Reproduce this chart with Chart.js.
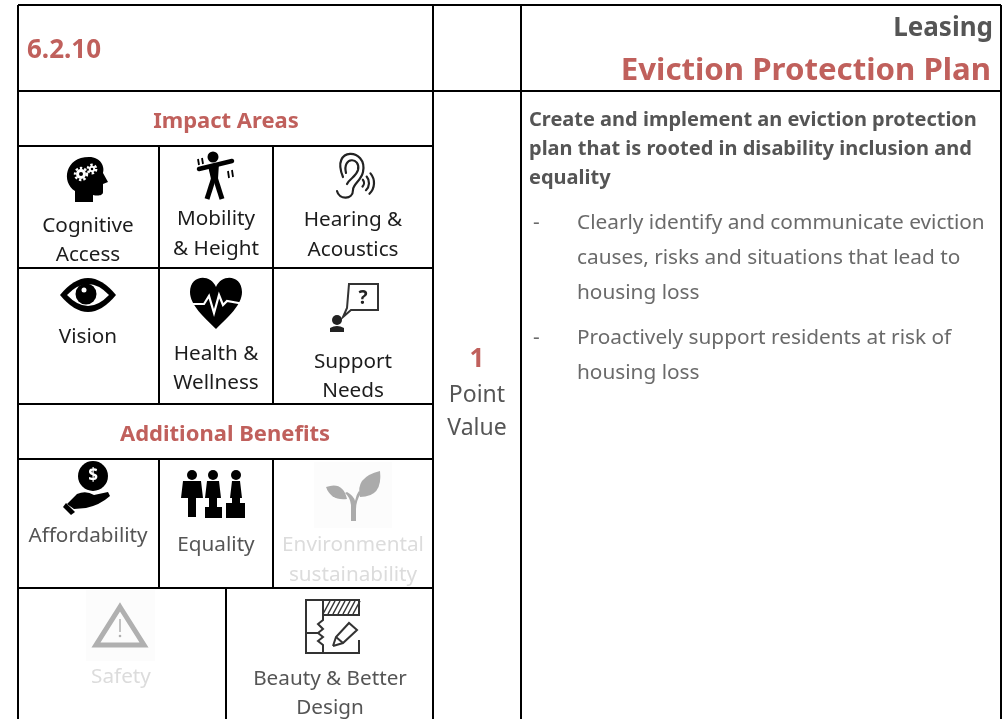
<!DOCTYPE html>
<html>
<head>
<meta charset="utf-8">
<title>Eviction Protection Plan</title>
<script src="https://cdn.jsdelivr.net/npm/chart.js@4/dist/chart.umd.min.js"></script>
<style>
  html, body { margin: 0; padding: 0; background: #fff; }
  canvas { display: block; }
</style>
</head>
<body>
<canvas id="sheet" width="1006" height="719"></canvas>
<script>
// table content
const sectionId = ['6.2.10'];
const category = ['Leasing'];
const title = ['Eviction Protection Plan'];
const sectionHeads = ['Impact Areas', 'Additional Benefits'];
const impactLabels = ['Cognitive', 'Access', 'Mobility', '& Height', 'Hearing &', 'Acoustics', 'Vision', 'Health &', 'Wellness', 'Support', 'Needs'];
const benefitLabels = ['Affordability', 'Equality', 'Beauty & Better', 'Design'];
const inactiveLabels = ['Environmental', 'sustainability', 'Safety'];
const pointValue = ['1'];
const pointLabels = ['Point', 'Value'];
const introLines = ['Create and implement an eviction protection', 'plan that is rooted in disability inclusion and', 'equality'];
const bulletLines = ['Clearly identify and communicate eviction', 'causes, risks and situations that lead to', 'housing loss', 'Proactively support residents at risk of', 'housing loss'];
const bulletDashes = ['-', '-'];

// table rules, in axis units
const hRules = [[5, 18, 1001], [91, 18, 1001], [146, 18, 433], [268, 18, 433], [404, 18, 433], [459, 18, 433], [588, 18, 433]];
const vRules = [[18, 5, 719], [433, 5, 719], [521, 5, 719], [1001, 5, 719], [159, 146, 404], [273, 146, 404], [159, 459, 588], [273, 459, 588], [226, 588, 719]];

const ruleSets = [
  ...hRules.map(r => [{ x: r[1], y: r[0] }, { x: r[2], y: r[0] }]),
  ...vRules.map(r => [{ x: r[0], y: r[1] }, { x: r[0], y: r[2] }]),
];

const RED = '#c0605c';
const DARK = '#1c1c1c';
const GREY = '#555555';
const BODY = '#6a6a6a';
const FAINT = '#dcdcdc';
const FONT = '"Noto Sans", sans-serif';

// [texts, x list, y list, align, font, colour]
const textBlocks = [
  [sectionId, [27], [58], 'left', 'bold 26px', RED],
  [category, [993], [36], 'right', 'bold 26px', GREY],
  [title, [991], [80], 'right', 'bold 31.2px', RED],
  [sectionHeads, [226, 225], [128, 441], 'center', 'bold 22px', RED],
  [impactLabels, [88, 88, 216, 216, 353, 353, 88, 216, 216, 353, 353], [232, 261, 225, 255, 226, 256, 343, 360, 389, 368, 397], 'center', '20.7px', DARK],
  [benefitLabels, [88, 216, 330, 330], [542, 551, 685, 714], 'center', '20.7px', GREY],
  [inactiveLabels, [353, 353, 121], [551, 581, 683], 'center', '20.7px', FAINT],
  [pointValue, [477], [367], 'center', 'bold 26px', RED],
  [pointLabels, [477, 477], [402, 435], 'center', '23px', GREY],
  [introLines, [529, 529, 529], [126, 155, 184], 'left', 'bold 20px', GREY],
  [bulletLines, [577, 577, 577, 577, 577], [229, 264, 299, 344, 379], 'left', '20.8px', BODY],
  [bulletDashes, [533, 533], [229, 344], 'left', '20.8px', BODY],
];

function circle(c, x, y, r) { c.beginPath(); c.arc(x, y, r, 0, Math.PI * 2); c.fill(); }
function line(c, pts) { c.beginPath(); pts.forEach((p, i) => i ? c.lineTo(p[0], p[1]) : c.moveTo(p[0], p[1])); c.stroke(); }

const icons = {
  head(c) {
    c.fillStyle = '#000';
    c.beginPath();
    c.moveTo(-12, 23); c.lineTo(-12, 12);
    c.bezierCurveTo(-26, 3, -22, -22, 2, -22);
    c.bezierCurveTo(14, -22, 18, -12, 16, -6);
    c.lineTo(21, 3); c.lineTo(16, 5); c.lineTo(16, 13);
    c.bezierCurveTo(16, 17, 10, 17, 6, 16); c.lineTo(6, 23); c.closePath(); c.fill();
    [[-6, -5, 5], [5, -10, 3.2]].forEach(g => {
      c.fillStyle = '#fff'; circle(c, g[0], g[1], g[2]);
      c.strokeStyle = '#fff'; c.lineWidth = 2.4; c.setLineDash([2.4, 2]);
      c.beginPath(); c.arc(g[0], g[1], g[2] + 1, 0, Math.PI * 2); c.stroke(); c.setLineDash([]);
      c.fillStyle = '#000'; circle(c, g[0], g[1], g[2] * 0.4);
    });
  },
  mover(c) {
    c.fillStyle = '#000'; c.strokeStyle = '#000';
    circle(c, 0, -18, 5.5);
    c.lineCap = 'round'; c.lineWidth = 4.5; line(c, [[-14, -6], [19, -14]]);
    c.beginPath(); c.moveTo(-5, -9); c.lineTo(6, -12); c.lineTo(5, 4); c.lineTo(-2, 4); c.closePath(); c.fill();
    c.lineCap = 'butt'; c.lineWidth = 5;
    line(c, [[1, 2], [-6, 24]]); line(c, [[2, 2], [9, 24]]);
    c.lineWidth = 1.8;
    line(c, [[-15, -16], [-14, -10]]); line(c, [[-11, -17], [-10, -11]]);
    line(c, [[15, -4], [16, 3]]); line(c, [[19, -5], [20, 2]]);
  },
  ear(c) {
    c.strokeStyle = '#222'; c.lineWidth = 2.2; c.lineCap = 'round';
    c.beginPath(); c.moveTo(-11, 1);
    c.bezierCurveTo(-24, -30, 14, -28, 9, -4);
    c.bezierCurveTo(7, 5, -1, 8, -1, 14);
    c.bezierCurveTo(-1, 24, -15, 24, -17, 15); c.stroke();
    c.beginPath(); c.moveTo(-8, -3);
    c.bezierCurveTo(-12, -20, 7, -19, 4, -6);
    c.bezierCurveTo(2, 1, -4, 2, -7, 8); c.stroke();
    c.lineWidth = 2.2;
    [5, 10, 15].forEach(r => { c.beginPath(); c.arc(5, 7, r, -0.7, 0.8); c.stroke(); });
  },
  eye(c) {
    c.fillStyle = '#000';
    c.beginPath(); c.moveTo(-28, 0);
    c.quadraticCurveTo(0, -34, 28, 0); c.quadraticCurveTo(0, 34, -28, 0); c.closePath(); c.fill();
    c.fillStyle = '#fff';
    c.beginPath(); c.moveTo(-21, 0);
    c.quadraticCurveTo(0, -22, 21, 0); c.quadraticCurveTo(0, 22, -21, 0); c.closePath(); c.fill();
    c.fillStyle = '#000'; circle(c, -2, -1, 10.5);
    c.fillStyle = '#fff'; circle(c, -4, -5, 2.5);
  },
  heart(c) {
    c.fillStyle = '#000';
    c.beginPath(); c.moveTo(0, 26);
    c.bezierCurveTo(-12, 14, -26, 2, -26, -11);
    c.bezierCurveTo(-26, -28, -6, -30, 0, -16);
    c.bezierCurveTo(6, -30, 26, -28, 26, -11);
    c.bezierCurveTo(26, 2, 12, 14, 0, 26); c.closePath(); c.fill();
    c.strokeStyle = '#fff'; c.lineWidth = 2.2;
    line(c, [[-28, 1], [-12, 1], [-7, -7], [-2, 10], [3, -8], [7, 2], [11, -2], [28, 1]]);
  },
  support(c) {
    c.strokeStyle = '#333'; c.lineWidth = 2;
    c.beginPath(); c.moveTo(-5, -19); c.lineTo(24, -19); c.lineTo(24, 7); c.lineTo(-3, 7); c.lineTo(-11, 14); c.lineTo(-7, 5); c.closePath(); c.stroke();
    c.fillStyle = '#222'; c.font = 'bold 19px ' + FONT; c.textAlign = 'center'; c.textBaseline = 'alphabetic';
    c.fillText('?', 9, 1);
    circle(c, -17, 17, 5);
    c.beginPath(); c.moveTo(-24, 29); c.lineTo(-24, 25); c.quadraticCurveTo(-17, 21, -10, 25); c.lineTo(-10, 29); c.closePath(); c.fill();
  },
  coin(c) {
    c.fillStyle = '#000'; circle(c, 7, -14, 15);
    c.fillStyle = '#fff'; c.font = 'bold 17px ' + FONT; c.textAlign = 'center'; c.textBaseline = 'middle';
    c.fillText('$', 7, -14);
    c.fillStyle = '#000';
    c.beginPath(); c.moveTo(-19, 14); c.lineTo(-9, 4); c.quadraticCurveTo(0, 0, 8, 5); c.lineTo(22, 2);
    c.lineTo(24, 6); c.quadraticCurveTo(14, 15, 0, 18); c.lineTo(-12, 19); c.closePath(); c.fill();
    c.beginPath(); c.moveTo(-23, 17); c.lineTo(-20, 13); c.lineTo(-11, 22); c.lineTo(-15, 25); c.closePath(); c.fill();
  },
  people(c) {
    c.fillStyle = '#000';
    const person = (x, foot, w) => {
      circle(c, x, -20, 5);
      c.beginPath(); c.moveTo(x - w + 2, -14); c.lineTo(x + w - 2, -14); c.lineTo(x + w, 3); c.lineTo(x + 4, 3); c.lineTo(x + 4, foot); c.lineTo(x - 4, foot); c.lineTo(x - 4, 3); c.lineTo(x - w, 3); c.closePath(); c.fill();
    };
    person(-22, 22, 11); person(-1, 12, 8); person(22, 8, 6);
    c.fillRect(-9, 12, 17, 11); c.fillRect(12, 8, 19, 15);
  },
  plant(c) {
    c.fillStyle = '#fcfcfc'; c.fillRect(-39, -33, 78, 66);
    c.fillStyle = '#ababab';
    c.beginPath(); c.moveTo(-2, 26); c.lineTo(-2, 10); c.quadraticCurveTo(-3, 2, -8, -2); c.lineTo(-6, -3); c.quadraticCurveTo(1, 1, 2, 6); c.quadraticCurveTo(4, -2, 6, -4); c.lineTo(8, -2); c.quadraticCurveTo(3, 6, 3, 14); c.lineTo(3, 26); c.closePath(); c.fill();
    c.beginPath(); c.moveTo(-27, -8); c.quadraticCurveTo(-10, -14, -6, 4); c.quadraticCurveTo(-22, 6, -27, -8); c.closePath(); c.fill();
    c.beginPath(); c.moveTo(27, -24); c.quadraticCurveTo(30, 2, 7, 2); c.quadraticCurveTo(2, -18, 27, -24); c.closePath(); c.fill();
  },
  warning(c) {
    c.fillStyle = '#fcfcfc'; c.fillRect(-34, -35, 69, 71);
    c.strokeStyle = '#b0b0b0'; c.lineWidth = 5; c.lineJoin = 'miter';
    c.beginPath(); c.moveTo(0, -18); c.lineTo(24, 20); c.lineTo(-24, 20); c.closePath(); c.stroke();
    c.lineWidth = 1.5; line(c, [[0, -6], [0, 7]]);
    c.fillStyle = '#b0b0b0'; circle(c, 0, 11, 1.3);
  },
  plan(c) {
    c.strokeStyle = '#333'; c.lineWidth = 2;
    line(c, [[-9, -26], [-26, -26], [-26, 27], [27, 27], [27, 14]]);
    c.strokeRect(-9, -26, 36, 15);
    c.lineWidth = 1.5;
    for (let x = -9; x < 24; x += 5) line(c, [[x, -12], [x + 7, -25]]);
    c.lineWidth = 2;
    line(c, [[-9, -11], [-9, -6], [-14, -2], [-9, 3], [-14, 7], [-26, 7]]);
    line(c, [[-14, 7], [-9, 11], [-14, 15], [-9, 19], [-9, 27]]);
    line(c, [[1, 20], [4, 11], [17, -3], [25, 4], [11, 17], [1, 20]]);
    line(c, [[4, 11], [11, 17]]);
  },
};

// icon centres, in axis units
const iconNames = ['head', 'mover', 'ear', 'eye', 'heart', 'support', 'coin', 'people', 'plant', 'warning', 'plan'];
const iconX = [87, 213, 354, 88, 216, 354, 86, 214, 353, 120, 332];
const iconY = [179, 175, 176, 295, 303, 303, 490, 495, 495, 625, 626];

const tablePlugin = {
  id: 'tablePlugin',
  afterDatasetsDraw(chart) {
    const { ctx, scales } = chart;
    iconNames.forEach((name, i) => {
      ctx.save();
      ctx.translate(scales.x.getPixelForValue(iconX[i]), scales.y.getPixelForValue(iconY[i]));
      icons[name](ctx);
      ctx.restore();
    });
    ctx.save();
    ctx.textBaseline = 'alphabetic';
    textBlocks.forEach(([texts, xs, ys, align, font, colour]) => {
      ctx.font = font + ' ' + FONT;
      ctx.textAlign = align;
      ctx.fillStyle = colour;
      texts.forEach((t, i) => ctx.fillText(t, scales.x.getPixelForValue(xs[i]), scales.y.getPixelForValue(ys[i])));
    });
    ctx.restore();
  },
};

new Chart(document.getElementById('sheet'), {
  type: 'scatter',
  data: {
    datasets: ruleSets.map(points => ({
      data: points,
      showLine: true,
      borderColor: '#000',
      borderWidth: 2,
      pointRadius: 0,
    })),
  },
  options: {
    responsive: false,
    animation: false,
    layout: { padding: 0 },
    plugins: { legend: { display: false }, tooltip: { enabled: false } },
    scales: {
      x: { type: 'linear', display: false, min: 0, max: 1006 },
      y: { type: 'linear', display: false, min: 0, max: 719, reverse: true },
    },
  },
  plugins: [tablePlugin],
});
</script>
</body>
</html>
